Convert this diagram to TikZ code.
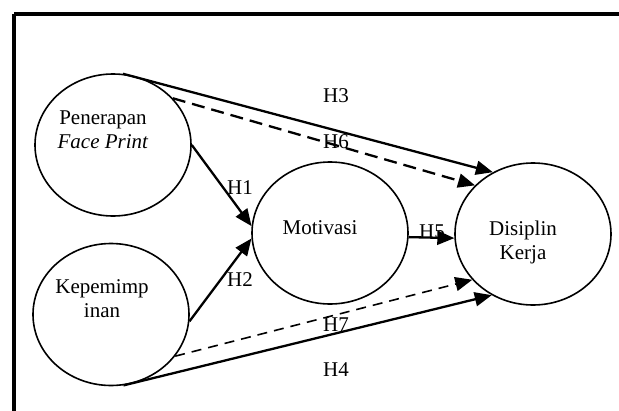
\documentclass[tikz,border=0pt]{standalone}
\usepackage{fontspec}
\setmainfont{Liberation Serif}
\usetikzlibrary{shapes.geometric,arrows.meta}
\begin{document}
\begin{tikzpicture}[x=1pt,y=-1pt,
  var/.style={ellipse,draw,line width=1.6pt,minimum width=156pt,minimum height=142pt,inner sep=0pt},
  lbl/.style={font=\fontsize{21}{24}\selectfont,align=center,inner sep=0pt},
  hyp/.style={font=\fontsize{21}{24}\selectfont,inner sep=0pt},
  arr/.style={line width=2.3pt,-{Triangle[length=17pt,width=14pt]}},
  darr/.style={line width=2.3pt,dash pattern=on 13pt off 7pt,-{Triangle[length=17pt,width=14pt]}},
  tarr/.style={line width=1.6pt,dash pattern=on 10pt off 7pt,-{Triangle[length=17pt,width=14pt]}}]
\useasboundingbox (0,0) rectangle (619,410);
\clip (0,0) rectangle (619,410);
\draw[line width=4pt] (14,13.7) -- (640,13.7);
\draw[line width=4pt] (14,13.7) -- (14,430);
\node[var] (pf) at (113,145) {};
\node[var] (kp) at (111,314.5) {};
\node[var] (mo) at (330,233) {};
\node[var] (dk) at (533,234) {};
\node[lbl] (tpf) at (103,130) {Penerapan\\\textit{Face Print}};
\node[lbl] (tkp) at (102,298.5) {Kepemimp\\inan};
\node[lbl] (tmo) at (320,228) {Motivasi};
\node[lbl] (tdk) at (523,242) {Disiplin\\Kerja};
\draw[arr] (pf.82.8) -- (dk.123);
\draw[darr] (pf.38.9) -- (dk.140.8);
\draw[arr] (pf.0) -- (mo.175.6);
\draw[arr] (kp.-5.6) -- (mo.184.4);
\draw[arr] (mo.-3) -- (dk.183);
\draw[tarr] (kp.-33) -- (dk.217);
\draw[arr] (kp.-80) -- (dk.236.7);
\node[hyp] (h3) at (336,96) {H3};
\node[hyp] (h6) at (336,142) {H6};
\node[hyp] (h1) at (240,188) {H1};
\node[hyp] (h2) at (240,280) {H2};
\node[hyp] (h5) at (432,232) {H5};
\node[hyp] (h7) at (336,325) {H7};
\node[hyp] (h4) at (336,370) {H4};
\end{tikzpicture}
\end{document}
